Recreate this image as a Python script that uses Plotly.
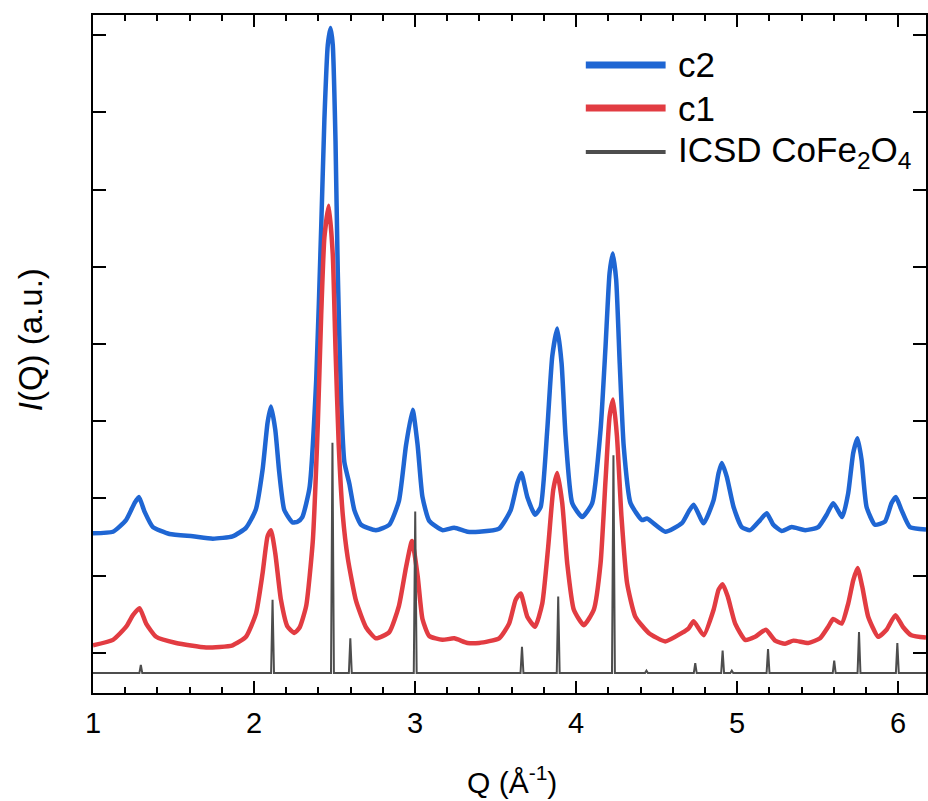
import plotly.graph_objects as go

# ---------------- data ----------------
q_c2 = [1.000, 1.124, 1.205, 1.258, 1.285, 1.320, 1.372, 1.475, 1.620, 1.744, 1.867, 1.950,
        2.010, 2.053, 2.084, 2.105, 2.132, 2.157, 2.188, 2.239, 2.270, 2.300, 2.344, 2.386,
        2.417, 2.437, 2.458, 2.475, 2.489, 2.506, 2.520, 2.541, 2.561, 2.592, 2.623, 2.665,
        2.757, 2.840, 2.900, 2.944, 2.985, 3.016, 3.046, 3.088, 3.170, 3.243, 3.325, 3.398,
        3.522, 3.594, 3.635, 3.660, 3.697, 3.745, 3.780, 3.821, 3.852, 3.883, 3.910, 3.935,
        3.976, 4.038, 4.100, 4.152, 4.183, 4.208, 4.228, 4.249, 4.271, 4.296, 4.338, 4.410,
        4.440, 4.554, 4.657, 4.699, 4.730, 4.792, 4.854, 4.885, 4.905, 4.936, 4.978, 5.029,
        5.081, 5.143, 5.184, 5.225, 5.277, 5.339, 5.422, 5.504, 5.556, 5.597, 5.653, 5.690,
        5.721, 5.748, 5.773, 5.804, 5.856, 5.918, 5.959, 5.986, 6.021, 6.073, 6.173]
i_c2 = [1.55, 1.57, 1.72, 1.94, 2.02, 1.83, 1.63, 1.54, 1.51, 1.48, 1.51, 1.62,
        1.85, 2.37, 2.98, 3.19, 2.89, 2.33, 1.85, 1.69, 1.70, 1.76, 2.13, 3.53,
        5.50, 6.91, 7.87, 8.09, 7.87, 6.63, 4.94, 3.25, 2.47, 2.19, 1.85, 1.66,
        1.59, 1.66, 1.97, 2.69, 3.15, 2.69, 2.02, 1.71, 1.59, 1.62, 1.57, 1.57,
        1.61, 1.85, 2.20, 2.33, 2.02, 1.79, 1.89, 2.89, 3.84, 4.20, 3.75, 2.80,
        1.94, 1.76, 1.94, 2.89, 3.97, 4.92, 5.17, 4.83, 3.75, 2.67, 1.94, 1.72,
        1.74, 1.57, 1.68, 1.83, 1.92, 1.68, 1.98, 2.33, 2.46, 2.28, 1.89, 1.63,
        1.59, 1.72, 1.81, 1.66, 1.58, 1.63, 1.59, 1.63, 1.79, 1.94, 1.76, 2.07,
        2.59, 2.78, 2.50, 1.89, 1.66, 1.70, 1.94, 2.02, 1.85, 1.63, 1.60]

q_c1 = [1.000, 1.124, 1.206, 1.248, 1.289, 1.330, 1.392, 1.516, 1.702, 1.867, 1.950, 2.012,
        2.053, 2.084, 2.105, 2.132, 2.167, 2.208, 2.250, 2.283, 2.324, 2.365, 2.396, 2.417,
        2.437, 2.464, 2.489, 2.506, 2.526, 2.551, 2.582, 2.634, 2.696, 2.757, 2.840, 2.900,
        2.944, 2.981, 3.016, 3.046, 3.088, 3.170, 3.243, 3.325, 3.398, 3.522, 3.584, 3.625,
        3.656, 3.697, 3.745, 3.790, 3.827, 3.858, 3.883, 3.914, 3.945, 3.986, 4.048, 4.110,
        4.152, 4.183, 4.208, 4.230, 4.254, 4.282, 4.317, 4.368, 4.451, 4.554, 4.657, 4.699,
        4.730, 4.792, 4.854, 4.885, 4.910, 4.942, 4.988, 5.050, 5.112, 5.178, 5.236, 5.298,
        5.350, 5.442, 5.515, 5.566, 5.597, 5.649, 5.690, 5.721, 5.748, 5.777, 5.814, 5.876,
        5.928, 5.983, 6.029, 6.082, 6.173]
i_c1 = [0.10, 0.17, 0.34, 0.49, 0.58, 0.38, 0.21, 0.13, 0.07, 0.10, 0.21, 0.51,
        1.03, 1.51, 1.59, 1.29, 0.69, 0.34, 0.26, 0.33, 0.61, 1.45, 2.96, 4.37,
        5.38, 5.79, 5.16, 3.93, 2.69, 1.79, 1.23, 0.67, 0.33, 0.19, 0.27, 0.61,
        1.11, 1.45, 1.00, 0.44, 0.22, 0.17, 0.19, 0.13, 0.13, 0.19, 0.38, 0.69,
        0.77, 0.47, 0.34, 0.64, 1.38, 2.11, 2.33, 1.94, 1.16, 0.56, 0.36, 0.56,
        1.16, 2.24, 3.06, 3.28, 2.80, 1.76, 0.90, 0.47, 0.26, 0.15, 0.26, 0.32,
        0.41, 0.23, 0.56, 0.82, 0.89, 0.73, 0.38, 0.17, 0.21, 0.30, 0.16, 0.12,
        0.16, 0.13, 0.19, 0.34, 0.44, 0.38, 0.64, 0.94, 1.10, 0.86, 0.47, 0.21,
        0.30, 0.49, 0.34, 0.23, 0.20]

# ICSD CoFe2O4 reference reflections (position, top of stick)
icsd_q = [1.297, 2.115, 2.487, 2.598, 3.001, 3.664, 3.889, 4.232, 4.437, 4.740,
          4.910, 4.967, 5.192, 5.603, 5.757, 5.995]
icsd_top = [-0.155, 0.69, 2.72, 0.19, 1.83, 0.08, 0.73, 2.56, -0.23, -0.13,
            0.03, -0.23, 0.05, -0.10, 0.27, 0.13]
icsd_base = -0.26
q_range = [1.0, 6.173]

names = ["c2", "c1", "ICSD CoFe<sub>2</sub>O<sub>4</sub>"]
colors = ["#1f66d3", "#e23c42", "#4d4d4d"]

# build stick pattern line from the reflection list
half_w = 0.009
sx, sy = [q_range[0]], [icsd_base]
for q, t in zip(icsd_q, icsd_top):
    sx += [q - half_w, q, q + half_w]
    sy += [icsd_base, t, icsd_base]
sx.append(q_range[1])
sy.append(icsd_base)

FONT = "Liberation Sans, Arial, sans-serif"

fig = go.Figure()
fig.add_trace(go.Scatter(x=q_c2, y=i_c2, mode="lines", name=names[0],
                         line=dict(color=colors[0], width=4.5, shape="spline", smoothing=0.5)))
fig.add_trace(go.Scatter(x=q_c1, y=i_c1, mode="lines", name=names[1],
                         line=dict(color=colors[1], width=4.5, shape="spline", smoothing=0.5)))
fig.add_trace(go.Scatter(x=sx, y=sy, mode="lines", name=names[2],
                         line=dict(color=colors[2], width=2)))

y_range = [-0.518, 8.259]

fig.update_layout(
    width=928, height=801,
    margin=dict(l=93, r=0, t=15, b=108),
    paper_bgcolor="white", plot_bgcolor="white",
    showlegend=False,
    font=dict(family=FONT, color="black"),
    xaxis=dict(range=q_range, showgrid=False, zeroline=False, layer="above traces",
               showline=True, linecolor="black", linewidth=2, mirror="ticks",
               ticks="inside", ticklen=12, tickwidth=2, tickcolor="black",
               tickmode="linear", tick0=1, dtick=1,
               tickfont=dict(size=29, family=FONT), ticklabelstandoff=3,
               minor=dict(tick0=1, dtick=0.2, ticks="inside", ticklen=6,
                          tickwidth=2, tickcolor="black", showgrid=False)),
    yaxis=dict(range=y_range, showgrid=False, zeroline=False, layer="above traces",
               showline=True, linecolor="black", linewidth=2, mirror="ticks",
               ticks="inside", ticklen=13, tickwidth=2, tickcolor="black",
               tickmode="linear", tick0=0, dtick=1, showticklabels=False),
)

# axis titles
fig.add_annotation(text="Q (Å<sup>-1</sup>)", xref="paper", yref="paper",
                   x=0.503, y=-0.1283, xanchor="center", yanchor="middle",
                   showarrow=False, font=dict(size=30, family=FONT))
fig.add_annotation(text="<i>I</i>(Q) (a.u.)", xref="paper", yref="paper",
                   x=-0.0754, y=0.5206, xanchor="center", yanchor="middle",
                   textangle=-90, showarrow=False, font=dict(size=33, family=FONT))

# legend drawn manually (long line samples)
leg_y = [0.9263, 0.8628, 0.7979]
leg_w = [7, 7, 4]
for name, col, yy, w in zip(names, colors, leg_y, leg_w):
    fig.add_shape(type="line", xref="paper", yref="paper", opacity=1,
                  x0=0.5916, x1=0.6874, y0=yy, y1=yy,
                  line=dict(color=col, width=w))
    fig.add_annotation(text=name, xref="paper", yref="paper",
                       x=0.6994, y=yy, xanchor="left", yanchor="middle",
                       showarrow=False, font=dict(size=35, family=FONT))

fig.write_html("out.html")
